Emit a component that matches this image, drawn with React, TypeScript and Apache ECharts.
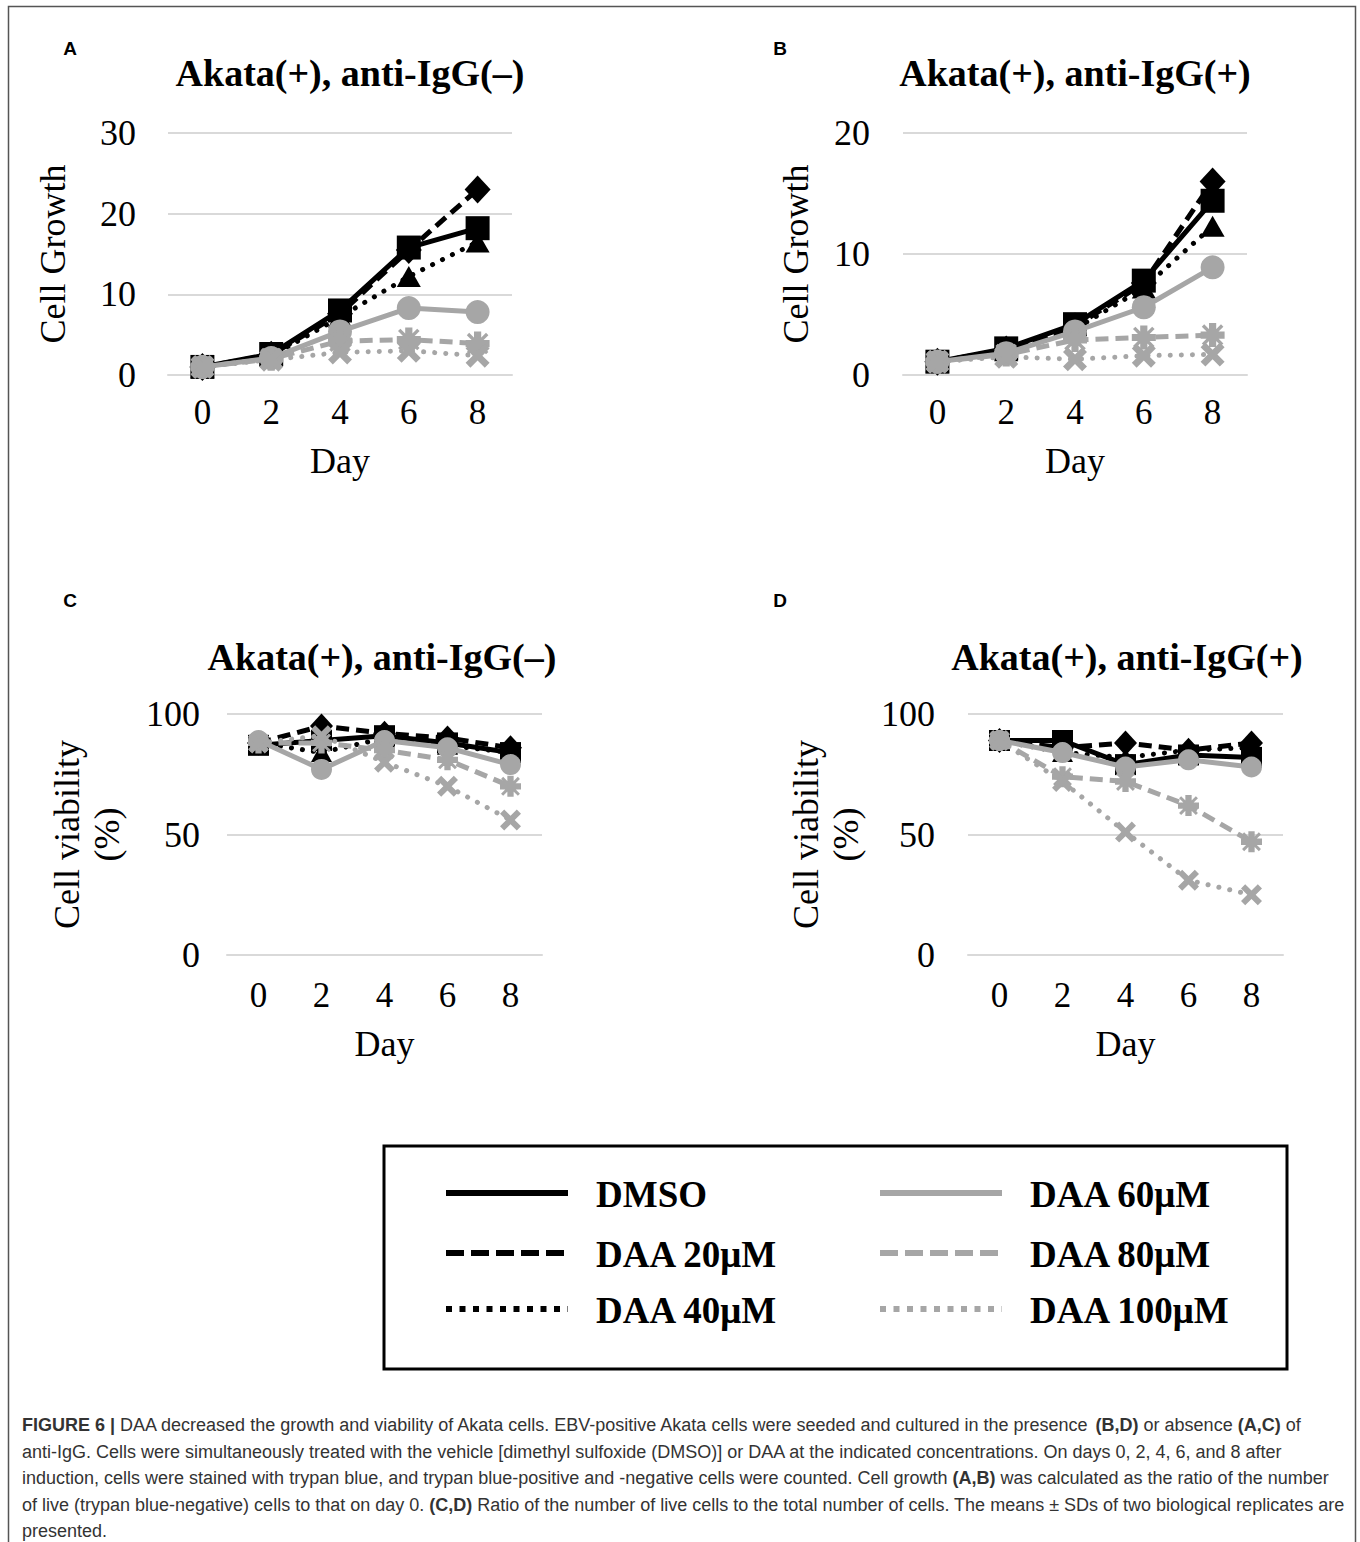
import React, { useEffect, useRef } from "react";
import * as echarts from "echarts";

// ---------------- data ----------------
const DAYS = ["0", "2", "4", "6", "8"];
const SERIES_NAMES = ["DMSO", "DAA 20μM", "DAA 40μM", "DAA 60μM", "DAA 80μM", "DAA 100μM"];

// Panel A: Cell Growth, anti-IgG(-)
const A_DMSO = [1, 2.6, 8.0, 15.8, 18.2];
const A_DAA20 = [1, 2.5, 7.6, 15.5, 23.0];
const A_DAA40 = [1, 2.3, 7.2, 12.2, 16.5];
const A_DAA60 = [1, 2.1, 5.4, 8.3, 7.8];
const A_DAA80 = [1, 2.0, 4.2, 4.4, 3.9];
const A_DAA100 = [1, 1.9, 2.8, 3.0, 2.4];

// Panel B: Cell Growth, anti-IgG(+)
const B_DMSO = [1.1, 2.2, 4.2, 7.8, 14.4];
const B_DAA20 = [1.1, 2.1, 4.0, 7.6, 16.0];
const B_DAA40 = [1.1, 2.0, 3.8, 7.2, 12.3];
const B_DAA60 = [1.1, 1.8, 3.6, 5.6, 8.9];
const B_DAA80 = [1.1, 1.7, 2.9, 3.1, 3.3];
const B_DAA100 = [1.1, 1.5, 1.3, 1.6, 1.7];

// Panel C: Cell viability (%), anti-IgG(-)
const C_DMSO = [87, 89, 91, 88, 84];
const C_DAA20 = [88, 95, 92, 90, 86];
const C_DAA40 = [88, 84, 90, 87, 84];
const C_DAA60 = [89, 77, 89, 86, 79];
const C_DAA80 = [88, 88, 85, 81, 70];
const C_DAA100 = [88, 91, 80, 70, 56];

// Panel D: Cell viability (%), anti-IgG(+)
const D_DMSO = [89, 89, 79, 83, 82];
const D_DAA20 = [89, 86, 88, 85, 88];
const D_DAA40 = [89, 84, 82, 85, 86];
const D_DAA60 = [89, 84, 78, 81, 78];
const D_DAA80 = [89, 74, 72, 62, 47];
const D_DAA100 = [89, 72, 51, 31, 25];

const PANEL_DATA = [
  [A_DMSO, A_DAA20, A_DAA40, A_DAA60, A_DAA80, A_DAA100],
  [B_DMSO, B_DAA20, B_DAA40, B_DAA60, B_DAA80, B_DAA100],
  [C_DMSO, C_DAA20, C_DAA40, C_DAA60, C_DAA80, C_DAA100],
  [D_DMSO, D_DAA20, D_DAA40, D_DAA60, D_DAA80, D_DAA100],
];

const PANEL_TITLES = ["Akata(+), anti-IgG(–)", "Akata(+), anti-IgG(+)", "Akata(+), anti-IgG(–)", "Akata(+), anti-IgG(+)"];
const PANEL_LETTERS = ["A", "B", "C", "D"];
const Y_NAMES = ["Cell Growth", "Cell Growth", "Cell viability\n(%)", "Cell viability\n(%)"];
const Y_MAX = [30, 20, 100, 100];
const Y_INTERVAL = [10, 10, 50, 50];

const CAPTION_LINES = [
  "{b|FIGURE 6 |} DAA decreased the growth and viability of Akata cells. EBV-positive Akata cells were seeded and cultured in the presence {b|(B,D)} or absence {b|(A,C)} of",
  "anti-IgG. Cells were simultaneously treated with the vehicle [dimethyl sulfoxide (DMSO)] or DAA at the indicated concentrations. On days 0, 2, 4, 6, and 8 after",
  "induction, cells were stained with trypan blue, and trypan blue-positive and -negative cells were counted. Cell growth {b|(A,B)} was calculated as the ratio of the number",
  "of live (trypan blue-negative) cells to that on day 0. {b|(C,D)} Ratio of the number of live cells to the total number of cells. The means ± SDs of two biological replicates are",
  "presented.",
];

// ---------------- styles ----------------
const BLACK = "#000000";
const GRAY = "#a6a6a6";
const GRID_COLOR = "#d9d9d9";
const SERIF = "'Liberation Serif', 'Times New Roman', serif";
const SANS = "'Liberation Sans', Arial, sans-serif";

const X_SYMBOL =
  "path://M4,0 L10,6 L16,0 L20,4 L14,10 L20,16 L16,20 L10,14 L4,20 L0,16 L6,10 L0,4 Z";
const STAR_SYMBOL =
  "path://M7,0 L13,0 L13,7 L20,7 L20,13 L13,13 L13,20 L7,20 L7,13 L0,13 L0,7 L7,7 Z M3,1 L10,8 L17,1 L19,3 L12,10 L19,17 L17,19 L10,12 L3,19 L1,17 L8,10 L1,3 Z";

const SERIES_STYLE = [
  { color: BLACK, type: "solid", symbol: "rect", cap: "butt" },
  { color: BLACK, type: [13, 7], symbol: "diamond", cap: "butt" },
  { color: BLACK, type: [0.1, 11], symbol: "triangle", cap: "round" },
  { color: GRAY, type: "solid", symbol: "circle", cap: "butt" },
  { color: GRAY, type: [13, 7], symbol: STAR_SYMBOL, cap: "butt" },
  { color: GRAY, type: [0.1, 11], symbol: X_SYMBOL, cap: "round" },
];

const GRIDS = [
  { left: 168, top: 133, width: 344, height: 242 },
  { left: 903, top: 133, width: 344, height: 242 },
  { left: 227, top: 714, width: 315, height: 241 },
  { left: 968, top: 714, width: 315, height: 241 },
];
const X_LABEL_MARGIN = [20, 20, 23, 23];
const X_NAME_GAP = [68, 68, 71, 71];
const Y_LABEL_MARGIN = [32, 33, 27, 33];
const Y_NAME_GAP = [95, 87, 100, 102];
const TITLE_POS = [
  [350, 73],
  [1075, 73],
  [382, 657],
  [1127, 657],
];
const LETTER_POS = [
  [70, 48],
  [780, 48],
  [70, 600],
  [780, 600],
];

function buildOption() {
  const grid = GRIDS.map((g) => ({ ...g, containLabel: false }));
  const xAxis = GRIDS.map((_, p) => ({
    type: "category",
    gridIndex: p,
    data: DAYS,
    boundaryGap: true,
    axisLine: { show: true, lineStyle: { color: GRID_COLOR, width: 2 } },
    axisTick: { show: false },
    axisLabel: { fontFamily: SERIF, fontSize: 35, color: BLACK, margin: X_LABEL_MARGIN[p] },
    name: "Day",
    nameLocation: "middle",
    nameGap: X_NAME_GAP[p],
    nameTextStyle: { fontFamily: SERIF, fontSize: 36, color: BLACK },
    splitLine: { show: false },
  }));
  const yAxis = GRIDS.map((_, p) => ({
    type: "value",
    gridIndex: p,
    min: 0,
    max: Y_MAX[p],
    interval: Y_INTERVAL[p],
    axisLine: { show: false },
    axisTick: { show: false },
    axisLabel: { fontFamily: SERIF, fontSize: 36, color: BLACK, margin: Y_LABEL_MARGIN[p] },
    splitLine: { show: true, lineStyle: { color: GRID_COLOR, width: 2 } },
    name: Y_NAMES[p],
    nameLocation: "middle",
    nameGap: Y_NAME_GAP[p],
    nameTextStyle: { fontFamily: SERIF, fontSize: 36, color: BLACK, lineHeight: 40 },
  }));

  const series: any[] = [];
  PANEL_DATA.forEach((panel, p) => {
    panel.forEach((values, s) => {
      const st = SERIES_STYLE[s];
      const big = p < 2;
      let size: any = big ? 24 : 21;
      if (st.symbol === "diamond") size = big ? [26, 28] : [23, 25];
      if (st.symbol === "triangle") size = big ? [24, 21] : [21, 19];
      series.push({
        type: "line",
        name: SERIES_NAMES[s],
        xAxisIndex: p,
        yAxisIndex: p,
        data: values,
        symbol: st.symbol,
        symbolSize: size,
        showAllSymbol: true,
        lineStyle: { color: st.color, width: 5, type: st.type, cap: st.cap, join: "round" },
        itemStyle: { color: st.color, borderWidth: 0 },
        emphasis: { disabled: true },
        z: 2 + s,
      });
    });
  });

  const graphic: any[] = [];
  // outer frame (open at the bottom)
  graphic.push({
    type: "polyline",
    shape: { points: [[8.5, 1545], [8.5, 6.5], [1355.5, 6.5], [1355.5, 1545]] },
    style: { stroke: "#555555", lineWidth: 1.5, fill: null },
    silent: true,
  });
  PANEL_LETTERS.forEach((l, i) => {
    graphic.push({
      type: "text",
      x: LETTER_POS[i][0],
      y: LETTER_POS[i][1],
      style: { text: l, fontFamily: SANS, fontWeight: "bold", fontSize: 19, fill: BLACK, align: "center", verticalAlign: "middle" },
      silent: true,
    });
  });
  PANEL_TITLES.forEach((t, i) => {
    graphic.push({
      type: "text",
      x: TITLE_POS[i][0],
      y: TITLE_POS[i][1],
      style: { text: t, fontFamily: SERIF, fontWeight: "bold", fontSize: 38, fill: BLACK, align: "center", verticalAlign: "middle" },
      silent: true,
    });
  });

  // legend box
  graphic.push({
    type: "rect",
    shape: { x: 384, y: 1146, width: 903, height: 223 },
    style: { stroke: BLACK, lineWidth: 3, fill: null },
    silent: true,
  });
  const legendRows = [1193, 1253, 1309];
  const legendCols = [
    { x1: 446, x2: 568, tx: 596 },
    { x1: 880, x2: 1002, tx: 1030 },
  ];
  const legendDash = [null, [18, 7], [6, 7.5], null, [18, 7], [6, 7.5]];
  SERIES_NAMES.forEach((n, s) => {
    const col = legendCols[Math.floor(s / 3)];
    const y = legendRows[s % 3];
    graphic.push({
      type: "line",
      shape: { x1: col.x1, y1: y, x2: col.x2, y2: y },
      style: { stroke: SERIES_STYLE[s].color, lineWidth: 6, lineDash: legendDash[s] || undefined },
      silent: true,
    });
    graphic.push({
      type: "text",
      x: col.tx,
      y: y + 1,
      style: { text: n, fontFamily: SERIF, fontWeight: "bold", fontSize: 37, fill: BLACK, align: "left", verticalAlign: "middle" },
      silent: true,
    });
  });

  // caption
  const capY = [1425, 1452, 1478, 1505, 1531];
  CAPTION_LINES.forEach((line, i) => {
    graphic.push({
      type: "text",
      x: 22,
      y: capY[i],
      style: {
        text: line,
        fontFamily: SANS,
        fontSize: 18,
        fill: "#333333",
        align: "left",
        verticalAlign: "middle",
        rich: {
          b: { fontFamily: SANS, fontSize: 18, fontWeight: "bold", fill: "#333333" },
        },
      },
      silent: true,
    });
  });

  return {
    animation: false,
    backgroundColor: "#ffffff",
    grid,
    xAxis,
    yAxis,
    series,
    graphic,
  };
}

export default function App() {
  const ref = useRef<HTMLDivElement>(null);
  useEffect(() => {
    if (!ref.current) return;
    const chart = echarts.init(ref.current, undefined, { renderer: "svg" });
    chart.setOption(buildOption() as any);
    return () => chart.dispose();
  }, []);
  return (
    <div
      ref={ref}
      style={{ position: "absolute", left: 0, top: 0, width: 1360, height: 1542, background: "#fff" }}
    />
  );
}
